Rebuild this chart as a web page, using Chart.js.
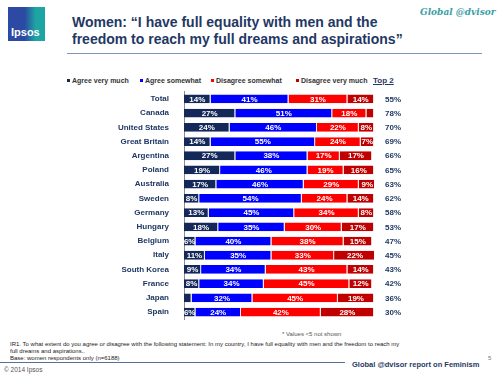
<!DOCTYPE html>
<html>
<head>
<meta charset="utf-8">
<script src="https://cdn.jsdelivr.net/npm/chart.js@4.4.0/dist/chart.umd.min.js"></script>
<style>
  body { margin: 0; width: 500px; height: 375px; background: #fff; position: relative; overflow: hidden; font-family: Arial, "Liberation Sans", sans-serif; }
  .abs { position: absolute; white-space: nowrap; }
  #logo { left: 8px; top: 7px; width: 37px; height: 34px; background: linear-gradient(90deg, #2c4aa3 0%, #2c4aa3 45%, #1ea5a3 75%, #1ea5a3 100%); }
  #logo span { position: absolute; left: 3px; bottom: 3px; color: #fff; font-weight: bold; font-size: 11px; }
  #brand { left: 420px; top: 7px; font-family: "DejaVu Serif", "Liberation Serif", serif; font-style: italic; font-weight: bold; font-size: 9px; color: #3aa0a3; }
  #title { left: 72px; top: 14px; font-weight: bold; font-size: 14px; line-height: 17px; color: #1f3864; }
  #rule { left: 67px; top: 53px; width: 415px; height: 1px; background: #8096b8; }
  .leg { top: 77px; font-size: 7px; font-weight: bold; color: #333; }
  .leg i { display: inline-block; width: 3px; height: 3px; margin-right: 2px; vertical-align: 1px; }
  #top2 { left: 373px; top: 76px; font-size: 8px; font-weight: bold; color: #1f3864; text-decoration: underline; }
  #wrap { left: 0; top: 80px; width: 500px; height: 251px; }
  #note { left: 282px; top: 331px; font-size: 6px; color: #555; }
  #foot { left: 10px; top: 341px; font-size: 6px; line-height: 7px; color: #222; }
  #frule { left: 0; top: 362px; width: 345px; height: 1px; background: #5a6e9a; }
  #copy { left: 4px; top: 366px; font-size: 6.5px; color: #555; }
  #report { left: 352px; top: 360px; font-size: 7.5px; font-weight: bold; color: #1f3864; }
  #page { left: 488px; top: 355px; font-size: 6px; color: #777; }
</style>
</head>
<body>
<div id="logo" class="abs"><span>Ipsos</span></div>
<div id="brand" class="abs">Global @dvisor</div>
<div id="title" class="abs">Women: “I have full equality with men and the<br>freedom to reach my full dreams and aspirations”</div>
<div id="rule" class="abs"></div>
<div class="abs leg" style="left:67px"><i style="background:#14285a"></i>Agree very much</div>
<div class="abs leg" style="left:140px"><i style="background:#0000ff"></i>Agree somewhat</div>
<div class="abs leg" style="left:211px"><i style="background:#ff0000"></i>Disagree somewhat</div>
<div class="abs leg" style="left:296px"><i style="background:#c00000"></i>Disagree very much</div>
<div id="top2" class="abs">Top 2</div>
<div id="wrap" class="abs"><canvas id="bars"></canvas></div>
<div id="note" class="abs">* Values &lt;5 not shown</div>
<div id="foot" class="abs">IR1. To what extent do you agree or disagree with the following statement: In my country, I have full equality with men and the freedom to reach my<br>full dreams and aspirations..<br>Base: women respondents only (n=6188)</div>
<div id="frule" class="abs"></div>
<div id="copy" class="abs">© 2014 Ipsos</div>
<div id="report" class="abs">Global @dvisor report on Feminism</div>
<div id="page" class="abs">5</div>

<script>
// values
var countries = ["Total", "Canada", "United States", "Great Britain", "Argentina", "Poland", "Australia", "Sweden",
  "Germany", "Hungary", "Belgium", "Italy", "South Korea", "France", "Japan", "Spain"];
var agreeVeryMuch = [14, 27, 24, 14, 27, 19, 17, 8, 13, 18, 6, 11, 9, 8, 4, 6];
var agreeSomewhat = [41, 51, 46, 55, 38, 46, 46, 54, 45, 35, 40, 35, 34, 34, 32, 24];
var disagreeSomewhat = [31, 18, 22, 24, 17, 19, 29, 24, 34, 30, 38, 33, 43, 45, 45, 42];
var disagreeVeryMuch = [14, 4, 8, 7, 17, 16, 9, 14, 8, 17, 15, 22, 14, 12, 19, 28];
var top2 = [55, 78, 70, 69, 66, 65, 63, 62, 58, 53, 47, 45, 43, 42, 36, 30];

var navy = "#1f3864";

// white % labels inside segments, and the Top 2 column on the right
var segLabels = {
  id: "segLabels",
  afterDatasetsDraw: function(chart) {
    var ctx = chart.ctx;
    ctx.save();
    ctx.font = "bold 8px Arial";
    ctx.textAlign = "center";
    ctx.textBaseline = "middle";
    ctx.fillStyle = "#fff";
    chart.data.datasets.forEach(function(ds, di) {
      chart.getDatasetMeta(di).data.forEach(function(bar, i) {
        if (ds.data[i] < 5) return;
        var p = bar.getProps(["x", "base", "y"], true);
        ctx.fillText(ds.data[i] + "%", (p.x + p.base) / 2, p.y + 0.5);
      });
    });
    ctx.fillStyle = navy;
    chart.getDatasetMeta(0).data.forEach(function(bar, i) {
      ctx.fillText(top2[i] + "%", chart.chartArea.right + 19, bar.y + 0.5);
    });
    ctx.restore();
  }
};

function series(label, data, color) {
  return { label: label, data: data, backgroundColor: color, borderColor: "#e8e8e8",
    borderWidth: { left: 0, top: 0, bottom: 0, right: 1 }, borderSkipped: false,
    barPercentage: 0.62, categoryPercentage: 1 };
}

new Chart(document.getElementById("bars"), {
  type: "bar",
  data: {
    labels: countries,
    datasets: [
      series("Agree very much", agreeVeryMuch, "#14285a"),
      series("Agree somewhat", agreeSomewhat, "#0000ff"),
      series("Disagree somewhat", disagreeSomewhat, "#ff0000"),
      series("Disagree very much", disagreeVeryMuch, "#c00000")
    ]
  },
  options: {
    indexAxis: "y",
    responsive: true,
    maintainAspectRatio: false,
    animation: false,
    layout: { padding: { left: 0, right: 126, top: 0, bottom: 0 } },
    plugins: { legend: { display: false }, tooltip: { enabled: false } },
    scales: {
      x: { stacked: true, min: 0, max: 100, display: false },
      y: {
        stacked: true,
        grid: { display: false },
        border: { display: true, color: "#8c8c8c" },
        ticks: { color: navy, padding: 7, font: { family: "Arial", size: 8, weight: "bold" } },
        afterFit: function(scale) { scale.width = 184; }
      }
    }
  },
  plugins: [segLabels]
});
</script>
</body>
</html>
